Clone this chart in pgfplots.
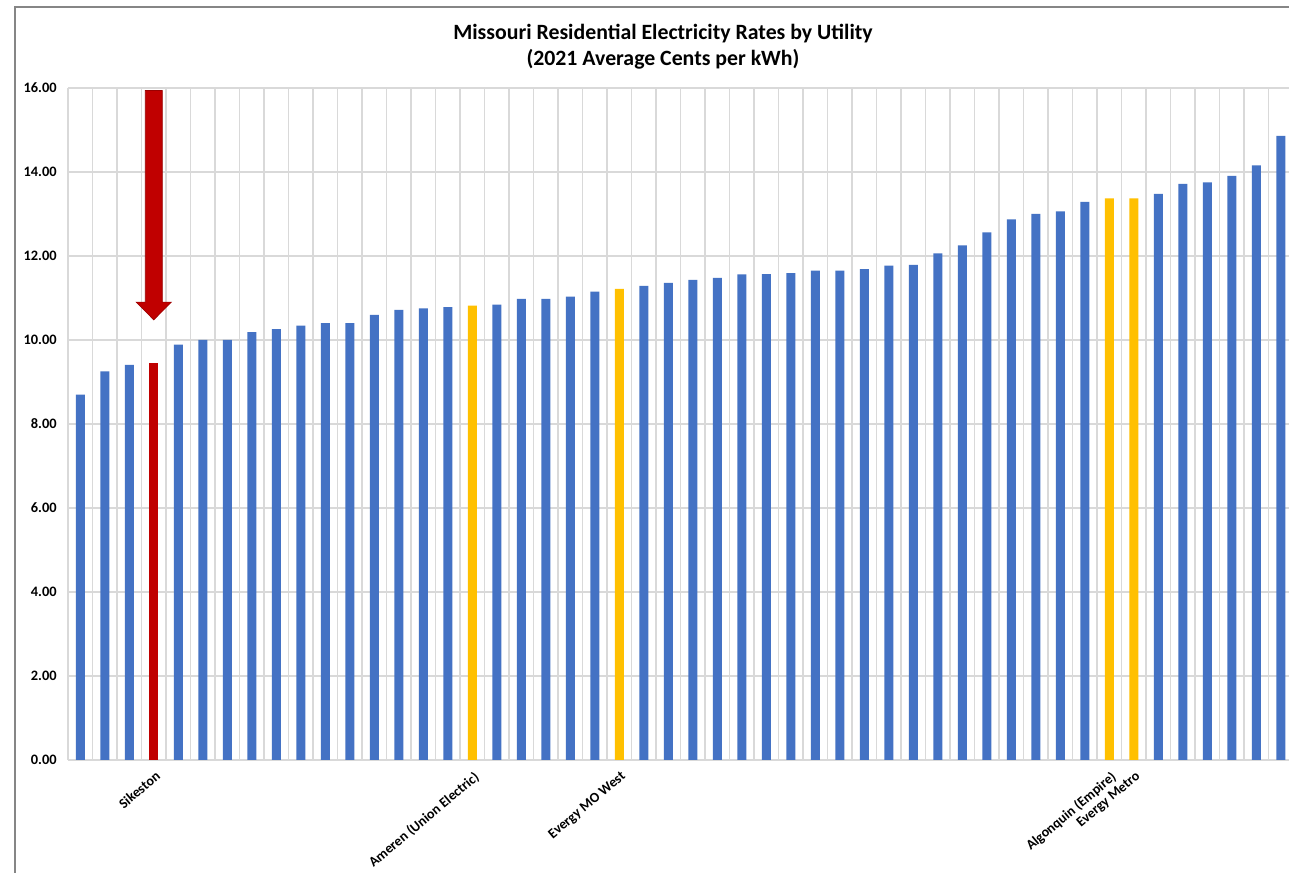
\documentclass[border=0pt]{standalone}
\usepackage{pgfplots}
\pgfplotsset{compat=1.18}
\usepackage{fontspec}
\setmainfont{Carlito}
\definecolor{barblue}{HTML}{4472C4}
\definecolor{baryellow}{HTML}{FFC000}
\definecolor{barred}{HTML}{C00000}
\definecolor{gridgray}{HTML}{D9D9D9}
\definecolor{framegray}{HTML}{868686}
\begin{document}
\begin{tikzpicture}
\useasboundingbox (0,0) rectangle (644.5pt,436pt);
\clip (0,0) rectangle (644.5pt,436pt);
\fill[white] (0,0) rectangle (644.5pt,436pt);
\draw[framegray, line width=0.8pt] (7.5pt,-20pt) -- (7.5pt,432.5pt) -- (680pt,432.5pt);
\node[align=center, font=\bfseries\fontsize{10.9}{13}\selectfont] at (331.5pt,412.5pt)
  {Missouri Residential Electricity Rates by Utility\\(2021 Average Cents per kWh)};
\begin{axis}[
  at={(34pt,56pt)}, anchor=south west,
  scale only axis, width=612.5pt, height=336pt,
  xmin=0, xmax=50, ymin=0, ymax=16,
  ybar, bar width=4.5pt, bar shift=0pt,
  axis line style={draw=none},
  tick style={draw=none},
  major tick length=0pt,
  xtick={0,1,...,50}, xticklabels={},
  ytick={0,2,...,16},
  grid=major,
  major grid style={gridgray, line width=0.6pt},
  /pgf/number format/assume math mode=true,
  /pgf/number format/.cd, fixed, fixed zerofill, precision=2, /pgfplots/.cd,
  yticklabel style={font=\bfseries\fontsize{7.2}{8}\selectfont, anchor=east, inner sep=0pt, xshift=-5.5pt},
  extra x ticks={3.5,16.5,22.5,42.5,43.5},
  extra x tick labels={Sikeston,Ameren (Union Electric),Evergy MO West,Algonquin (Empire),Evergy Metro},
  extra x tick style={grid=none, xticklabel style={font=\bfseries\fontsize{7}{8}\selectfont, inner sep=0pt, xshift=0.5pt, yshift=-5pt, rotate=40, anchor=north east}},
  clip=false,
]
\addplot[fill=barblue, draw=none] coordinates {
(0.5,8.70) (1.5,9.25) (2.5,9.41) (4.5,9.89) (5.5,10.00) (6.5,10.00) (7.5,10.19)
(8.5,10.26) (9.5,10.34) (10.5,10.40) (11.5,10.40) (12.5,10.60) (13.5,10.72)
(14.5,10.75) (15.5,10.78) (17.5,10.84) (18.5,10.98) (19.5,10.98) (20.5,11.03)
(21.5,11.15) (23.5,11.29) (24.5,11.36) (25.5,11.43) (26.5,11.48) (27.5,11.56)
(28.5,11.57) (29.5,11.59) (30.5,11.65) (31.5,11.65) (32.5,11.69) (33.5,11.77)
(34.5,11.79) (35.5,12.06) (36.5,12.25) (37.5,12.56) (38.5,12.87) (39.5,13.00)
(40.5,13.06) (41.5,13.29) (44.5,13.48) (45.5,13.72) (46.5,13.75) (47.5,13.91)
(48.5,14.16) (49.5,14.86)
};
\addplot[fill=baryellow, draw=none] coordinates {
(16.5,10.82) (22.5,11.22) (42.5,13.37) (43.5,13.37)
};
\addplot[fill=barred, draw=none] coordinates {
(3.5,9.46)
};
\fill[barred, draw=barred!80!black, line width=0.3pt]
  ([xshift=-4.25pt]axis cs:3.5,15.94) -- ([xshift=4.25pt]axis cs:3.5,15.94)
  -- ([xshift=4.25pt]axis cs:3.5,10.90) -- ([xshift=8.8pt]axis cs:3.5,10.90)
  -- (axis cs:3.5,10.48) -- ([xshift=-8.8pt]axis cs:3.5,10.90)
  -- ([xshift=-4.25pt]axis cs:3.5,10.90) -- cycle;
\end{axis}
\end{tikzpicture}
\end{document}
